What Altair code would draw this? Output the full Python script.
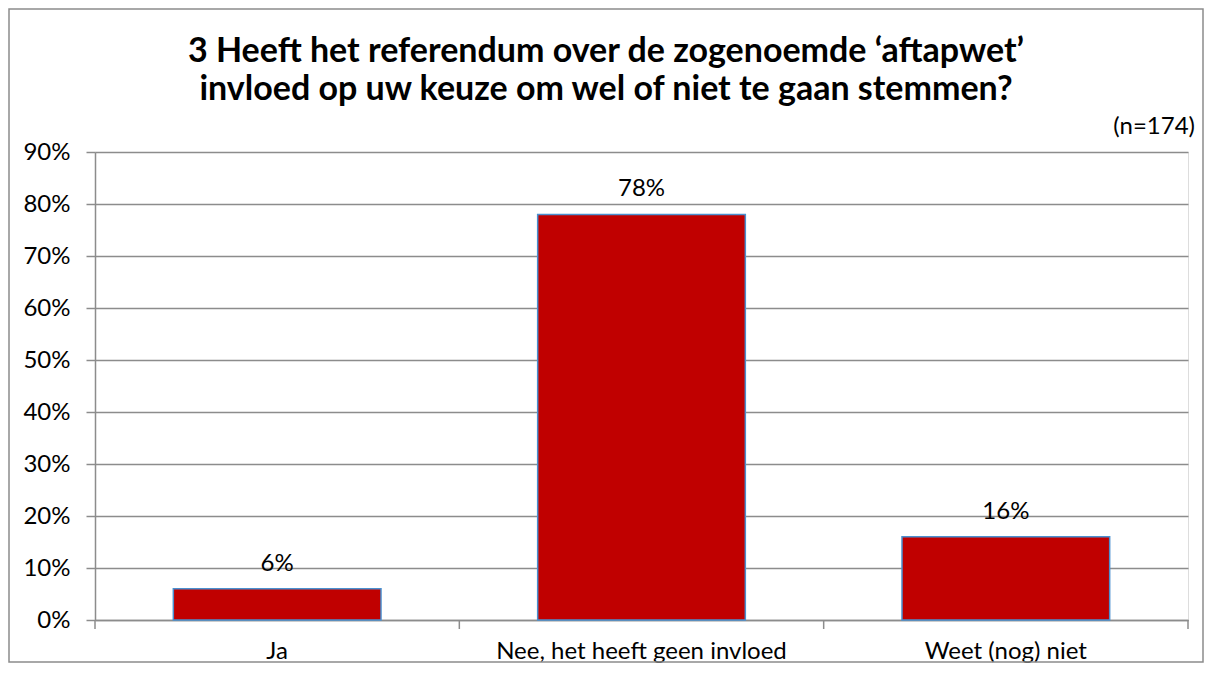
import altair as alt
import pandas as pd

categories = ["Ja", "Nee, het heeft geen invloed", "Weet (nog) niet"]
values = [6, 78, 16]
value_labels = ["6%", "78%", "16%"]
title_lines = ["3 Heeft het referendum over de zogenoemde \u2018aftapwet\u2019",
               "invloed op uw keuze om wel of niet te gaan stemmen?"]
note = "(n=174)"
y_ticks = [0, 0.1, 0.2, 0.3, 0.4, 0.5, 0.6, 0.7, 0.8, 0.9]

df = pd.DataFrame({"cat": categories,
                   "val": [v / 100 for v in values],
                   "label": value_labels})
bounds_df = pd.DataFrame({"b": list(range(len(categories) + 1))})

W, H = 1093, 468
FONT = "Lato"
GRID = "#8c8c8c"
LS = 24

x_enc = alt.X("cat:N", sort=categories, title=None,
              scale=alt.Scale(paddingInner=0.43, paddingOuter=0.215),
              axis=alt.Axis(labelAngle=0, ticks=False, labelLimit=0,
                            labelPadding=19, labelFontSize=LS, labelFont=FONT,
                            labelColor="#000000", domainColor=GRID,
                            domainWidth=1.5, grid=False))
y_enc = alt.Y("val:Q", title=None,
              scale=alt.Scale(domain=[0, 0.9], nice=False, zero=True),
              axis=alt.Axis(format=".0%", values=y_ticks, tickSize=9,
                            labelPadding=16, labelFontSize=LS, labelFont=FONT,
                            labelColor="#000000", domainColor=GRID, tickColor=GRID,
                            gridColor=GRID, domainWidth=1.5, tickWidth=1.5,
                            gridWidth=1.5))

base = alt.Chart(df)

bars = base.mark_bar(color="#C00000", stroke="#4A90D0", strokeWidth=1.5).encode(
    x=x_enc, y=y_enc)

texts = base.mark_text(baseline="middle", dy=-25, fontSize=LS, font=FONT,
                       color="#000000").encode(
    x=alt.X("cat:N", sort=categories), y="val:Q", text="label:N")

cat_ticks = alt.Chart(bounds_df).mark_rule(color=GRID, strokeWidth=1.5).encode(
    x=alt.X("b:Q", scale=alt.Scale(domain=[0, len(categories)], nice=False),
            axis=None),
    y=alt.value(H), y2=alt.value(H + 9))

t1 = alt.Chart(pd.DataFrame({"t": [title_lines[0]]})).mark_text(
    font=FONT, fontSize=34, fontWeight="bold", align="center",
    baseline="alphabetic", color="#000000").encode(
    text="t:N", x=alt.value(511), y=alt.value(-90))
t2 = alt.Chart(pd.DataFrame({"t": [title_lines[1]]})).mark_text(
    font=FONT, fontSize=34, fontWeight="bold", align="center",
    baseline="alphabetic", color="#000000").encode(
    text="t:N", x=alt.value(511), y=alt.value(-52))
n_text = alt.Chart(pd.DataFrame({"t": [note]})).mark_text(
    font=FONT, fontSize=LS, align="right", baseline="alphabetic",
    color="#000000").encode(text="t:N", x=alt.value(1100), y=alt.value(-18))

frame = alt.Chart(pd.DataFrame({"a": [0]})).mark_rect(
    fill=None, stroke="#8c8c8c", strokeWidth=1.5).encode(
    x=alt.value(-86), x2=alt.value(1108), y=alt.value(-143), y2=alt.value(510))

main = alt.layer(bars, texts)

chart = alt.layer(frame, main, cat_ticks, t1, t2, n_text).resolve_scale(
    x="independent").properties(
    width=W, height=H,
    autosize=alt.AutoSizeParams(type="none"),
    padding={"left": 87, "top": 144, "right": 17, "bottom": 51},
).configure_view(stroke=None).configure(background="white")

chart.save("out.html", embed_options={"renderer": "svg", "actions": False})
